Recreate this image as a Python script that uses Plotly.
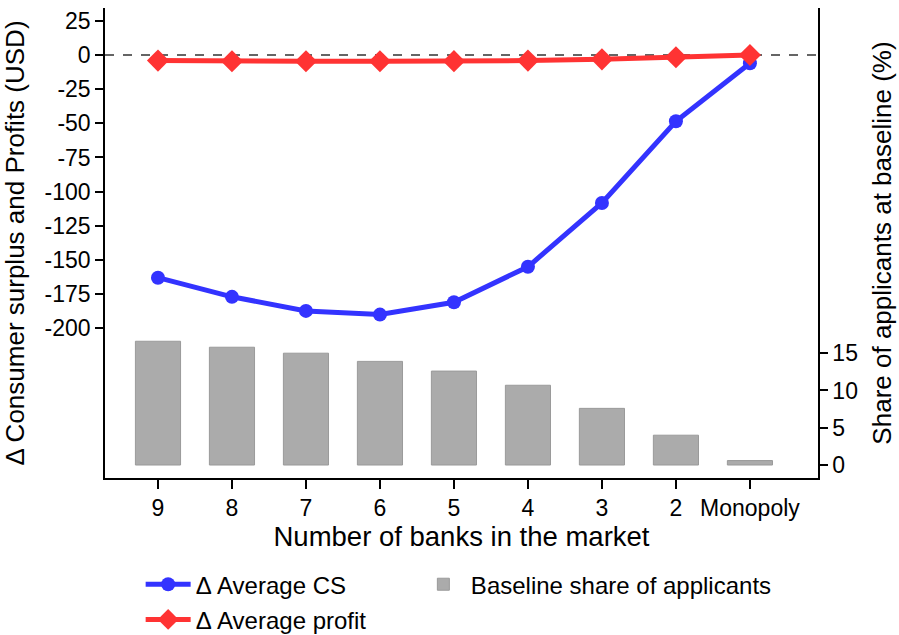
import plotly.graph_objects as go

# Data
banks = ["9", "8", "7", "6", "5", "4", "3", "2", "Monopoly"]
avg_cs = [-163, -177, -187.3, -190, -181, -155, -108.3, -48.5, -6]
avg_profit = [-4.1, -4.6, -4.6, -4.6, -4.5, -4.1, -3.2, -1.7, 0]
baseline_share = [16.6, 15.8, 15.0, 13.9, 12.6, 10.7, 7.6, 4.0, 0.6]

left_ticks = [25, 0, -25, -50, -75, -100, -125, -150, -175, -200]
left_ticktext = ["25", "0", "-25", "-50", "-75", "-100", "-125", "-150", "-175", "-200"]
right_ticks = [0, 5, 10, 15]

FONT = "Helvetica, Arial, Liberation Sans, sans-serif"

fig = go.Figure()

fig.add_trace(go.Scatter(
    x=banks,
    y=avg_cs,
    mode="lines+markers",
    name="Δ Average CS",
    legendgroup="cs",
    line=dict(color="#3333ff", width=5),
    marker=dict(symbol="circle", size=14, color="#3333ff"),
))

# Bars on the right axis, with their own legend box
fig.add_trace(go.Bar(
    x=banks,
    y=baseline_share,
    name="Baseline share of applicants",
    yaxis="y2",
    legend="legend2",
    width=0.61,
    marker=dict(color="#ababab", line=dict(color="#9a9a9a", width=1)),
))

fig.add_trace(go.Scatter(
    x=banks,
    y=avg_profit,
    mode="lines+markers",
    name="Δ Average profit",
    legendgroup="profit",
    line=dict(color="#ff3333", width=5),
    marker=dict(symbol="diamond", size=17, color="#ff3333"),
))

# Dashed zero line across the plot
fig.add_shape(
    type="line", xref="paper", x0=0, x1=1, yref="y", y0=0, y1=0,
    line=dict(color="#333333", width=1.5, dash="dash"),
    layer="below",
)

fig.update_layout(
    width=899,
    height=635,
    margin=dict(l=105, r=81, t=8, b=157, autoexpand=False),
    plot_bgcolor="white",
    paper_bgcolor="white",
    font=dict(family=FONT, size=23, color="black"),
    showlegend=True,
    legend=dict(
        orientation="v",
        x=0.05, xanchor="left",
        y=-0.179, yanchor="top",
        itemwidth=45,
        font=dict(size=24),
        traceorder="grouped",
        tracegroupgap=1,
    ),
    legend2=dict(
        orientation="v",
        x=0.436, xanchor="left",
        y=-0.179, yanchor="top",
        itemwidth=45,
        font=dict(size=24),
    ),
    xaxis=dict(
        type="category",
        range=[-0.716, 8.92],
        showline=True, linecolor="black", linewidth=1.5,
        ticks="outside", ticklen=9, tickwidth=1.5, tickcolor="black",
        showgrid=False, zeroline=False, automargin=False,
        tickfont=dict(size=23),
        title=dict(text="Number of banks in the market", font=dict(size=27.5), standoff=2),
    ),
    yaxis=dict(
        range=[-309.6, 34.4],
        tickvals=left_ticks, ticktext=left_ticktext,
        showline=True, linecolor="black", linewidth=1.5,
        ticks="outside", ticklen=8, tickwidth=1.5, tickcolor="black",
        showgrid=False, zeroline=False, automargin=False,
        tickfont=dict(size=23),
        title=dict(text="Δ Consumer surplus and Profits (USD)", font=dict(size=26), standoff=14),
    ),
    yaxis2=dict(
        overlaying="y", side="right",
        range=[-1.74, 61.3],
        tickvals=right_ticks,
        showline=True, linecolor="black", linewidth=1.5,
        ticks="outside", ticklen=8, tickwidth=1.5, tickcolor="black",
        showgrid=False, zeroline=False, automargin=False,
        tickfont=dict(size=23),
        title=dict(text="Share of applicants at baseline (%)", font=dict(size=26), standoff=16),
    ),
)

# remove the default page margin so the figure sits at the window corner
fig.write_html(
    "out.html",
    config={"displayModeBar": False},
    post_script="document.body.style.margin='0';",
)
